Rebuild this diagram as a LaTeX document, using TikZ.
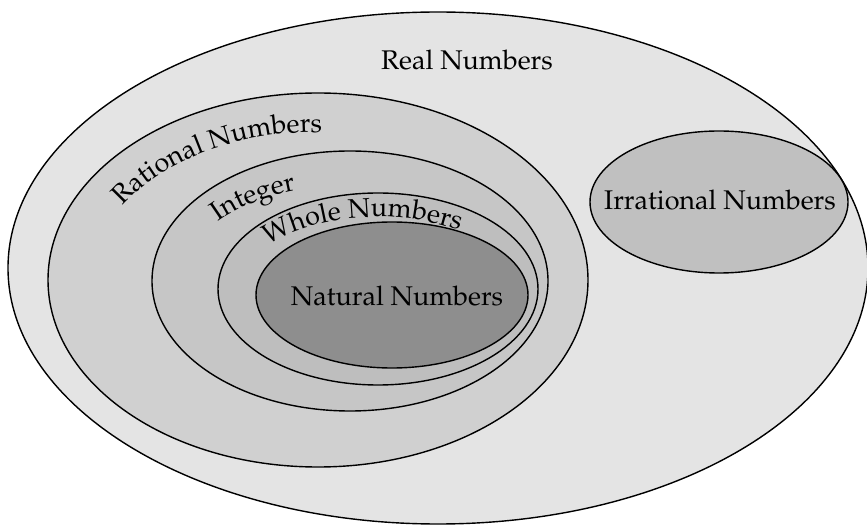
\documentclass[tikz,border=0pt]{standalone}
\usepackage[T1]{fontenc}
\usepackage{mathpazo}
\usetikzlibrary{shapes.geometric,decorations.text}

\definecolor{realfill}{gray}{0.894}
\definecolor{ratfill}{gray}{0.816}
\definecolor{intfill}{gray}{0.776}
\definecolor{wholefill}{gray}{0.745}
\definecolor{natfill}{gray}{0.557}
\definecolor{irrfill}{gray}{0.753}

\tikzset{
  numset/.style={ellipse, draw, line width=0.7pt, inner sep=0pt},
  bent/.style={decorate, decoration={text along path, text={#1}}}
}

\begin{document}
\fontsize{13.5}{16}\selectfont
\begin{tikzpicture}[x=0.5pt, y=0.5pt]
    \useasboundingbox (0,0) rectangle (867,525);
    \clip (0,0) rectangle (867,525);
    % the sets
    \node (real) at (438,257) [numset, fill=realfill,
      minimum width=430pt, minimum height=256pt] {};
    \node (rational) at (318,245) [numset, fill=ratfill,
      minimum width=270pt, minimum height=187pt] {};
    \node (integer) at (350,244) [numset, fill=intfill,
      minimum width=198pt, minimum height=130pt] {};
    \node (whole) at (378,236) [numset, fill=wholefill,
      minimum width=160pt, minimum height=96pt] {};
    \node (natural) at (392,230) [numset, fill=natfill,
      minimum width=136pt, minimum height=73pt] {};
    \node (irrational) at (719,323) [numset, fill=irrfill,
      minimum width=129pt, minimum height=71pt] {};
    % straight labels
    \node (reallabel) at (467,455) [anchor=base] {Real Numbers};
    \node (irrlabel) at (720,315) [anchor=base] {Irrational Numbers};
    \node (natlabel) at (397,219) [anchor=base] {Natural Numbers};
    % curved labels
    \path[bent=Rational Numbers] (rational.center) ++(150:226 and 148)
      arc[start angle=150, end angle=40, x radius=226, y radius=148];
    \path[bent=Integer] (integer.center) ++(142:168 and 96)
      arc[start angle=142, end angle=40, x radius=168, y radius=96];
    \path[bent=Whole Numbers] (whole.center) ++(142:139 and 72)
      arc[start angle=142, end angle=10, x radius=139, y radius=72];
\end{tikzpicture}
\end{document}
